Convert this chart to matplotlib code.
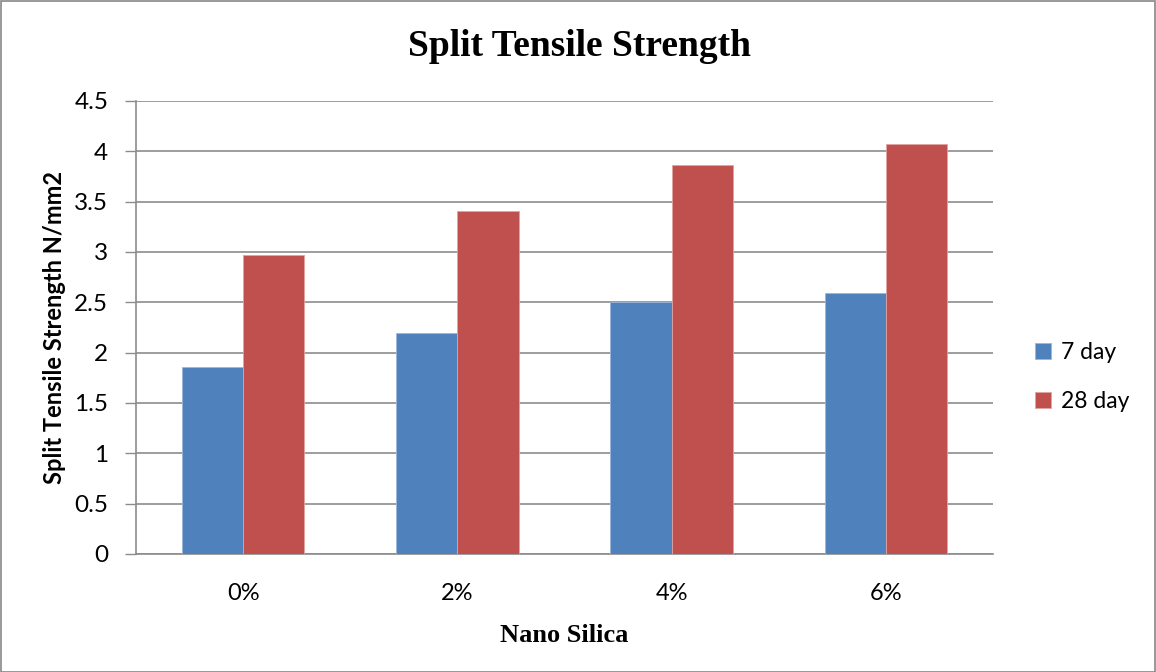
import matplotlib
matplotlib.use("Agg")
import matplotlib.pyplot as plt
import numpy as np
from matplotlib.patches import Rectangle

categories = ["0%", "2%", "4%", "6%"]
day7 = [1.86, 2.20, 2.50, 2.59]
day28 = [2.97, 3.41, 3.86, 4.07]
series_labels = ["7 day", "28 day"]
y_ticks = [0, 0.5, 1, 1.5, 2, 2.5, 3, 3.5, 4, 4.5]
y_tick_labels = ["0", "0.5", "1", "1.5", "2", "2.5", "3", "3.5", "4", "4.5"]

blue = "#4F81BD"
red = "#C0504D"
grid_gray = "#8C8C8C"

fig = plt.figure(figsize=(11.56, 6.72), dpi=100)
fig.patch.set_facecolor("white")
ax = fig.add_axes([136 / 1156, 1 - 554 / 672, (993 - 136) / 1156, (554 - 101) / 672])

x = np.arange(len(categories))
w = 1 / 3.5
ax.bar(x - w / 2, day7, width=w, color=blue, edgecolor="#9DB7DA", linewidth=0.6,
       label=series_labels[0], zorder=3)
ax.bar(x + w / 2, day28, width=w, color=red, edgecolor="#E0A3A1", linewidth=0.6,
       label=series_labels[1], zorder=3)

ax.set_xlim(-0.5, len(categories) - 0.5)
ax.set_ylim(0, 4.5)
ax.set_yticks(y_ticks)
ax.set_yticklabels(y_tick_labels, family="Lato", fontsize=17.5)
ax.set_xticks(x)
ax.set_xticklabels(categories, family="Lato", fontsize=17)
ax.tick_params(axis="y", direction="out", length=8, width=1, color=grid_gray, pad=12)
ax.tick_params(axis="x", length=0, pad=21)

ax.yaxis.grid(True, color=grid_gray, linewidth=1.2, zorder=0)
ax.set_axisbelow(True)
for side in ["top", "right"]:
    ax.spines[side].set_visible(False)
for side in ["left", "bottom"]:
    ax.spines[side].set_color(grid_gray)
    ax.spines[side].set_linewidth(1.2)

ax.set_ylabel("Split Tensile Strength N/mm2", family="Lato", fontweight="bold",
              fontsize=17, labelpad=6)
ax.set_xlabel("Nano Silica", family="Liberation Serif", fontweight="bold",
              fontsize=19, labelpad=14)
fig.text(579 / 1156, 1 - 47 / 672, "Split Tensile Strength", family="Liberation Serif",
         fontweight="bold", fontsize=27, ha="center", va="center")

leg = fig.legend(loc="center left", bbox_to_anchor=(1014 / 1156, 1 - 377 / 672),
                 frameon=False, prop={"family": "Lato", "size": 16.5},
                 handlelength=0.7, handleheight=0.7, handletextpad=0.45,
                 labelspacing=1.2)

fig.patches.append(Rectangle((0.5 / 1156, 0.5 / 672), 1 - 1.5 / 1156, 1 - 1.5 / 672,
                             transform=fig.transFigure, fill=False,
                             edgecolor="#888888", linewidth=1.2))

fig.savefig("out.png", dpi=100)
